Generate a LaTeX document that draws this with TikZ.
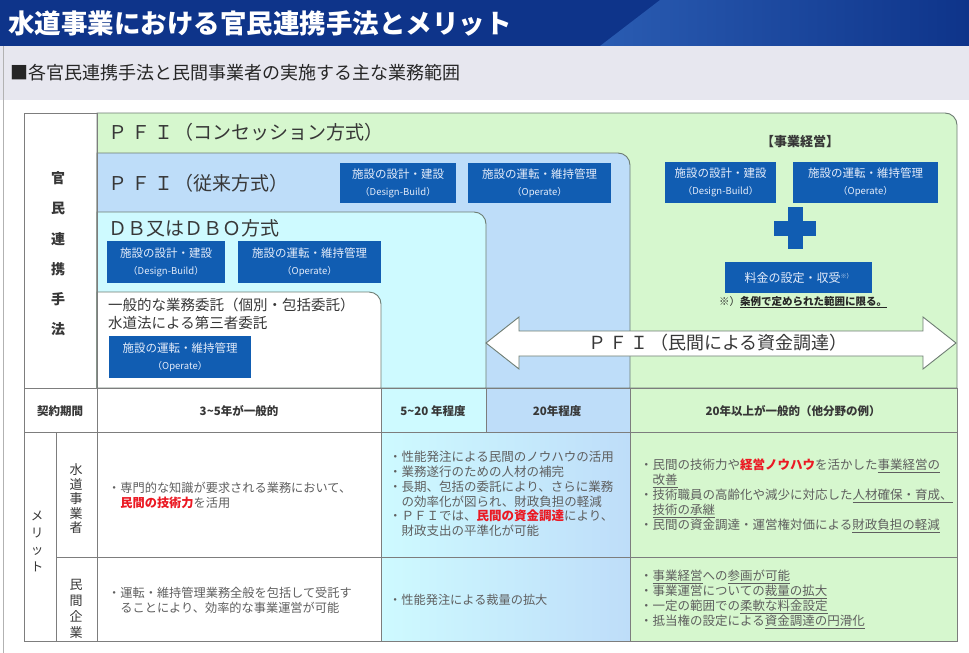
\documentclass[tikz,border=0pt]{standalone}
\usepackage{fontspec}
\setmainfont{Noto Sans CJK JP}
\definecolor{navy}{RGB}{14,52,138}
\definecolor{navyL}{RGB}{42,92,178}
\definecolor{band}{RGB}{231,231,239}
\definecolor{gfill}{RGB}{214,247,206}
\definecolor{bfill}{RGB}{190,221,249}
\definecolor{cfill}{RGB}{206,250,255}
\definecolor{boxblue}{RGB}{17,93,178}
\definecolor{boxtxt}{RGB}{228,236,250}
\definecolor{gridc}{RGB}{125,125,125}
\definecolor{edge}{RGB}{110,125,115}
\definecolor{txt}{RGB}{55,55,55}
\definecolor{mtxt}{RGB}{95,95,95}
\definecolor{accent}{RGB}{235,25,35}
\tikzset{
  dbox/.style={fill=boxblue, text=boxtxt, align=center, inner sep=0pt, font=\fontsize{11.5}{17}\selectfont},
  gridline/.style={draw=gridc, line width=1pt},
  region/.style={draw=edge, line width=0.9pt},
  mtext/.style={anchor=west, inner sep=0pt, align=left, text=mtxt, font=\fontsize{12.2}{15}\selectfont},
  ctext/.style={inner sep=0pt, text=txt, font=\bfseries\fontsize{11.5}{14}\selectfont},
  vtext/.style={inner sep=0pt, align=center, text=txt},
  htext/.style={anchor=west, inner sep=0pt, text=txt},
}
\newcommand{\lat}[1]{{\fontsize{9.5}{17}\selectfont #1}}
\newcommand{\hl}[1]{{\color{accent}\bfseries #1}}
\begin{document}
\begin{tikzpicture}[x=1pt,y=-1pt]
\useasboundingbox (0,0) rectangle (969,653);
\fill[white] (0,0) rectangle (969,653);
% title bar
\fill[navy] (0,0) rectangle (969,46);
\shade[left color=navyL, right color=navy] (600,46) -- (660,0) -- (969,0) -- (969,46) -- cycle;
\fill[band] (0,46) rectangle (969,100);
\draw[gray!60, line width=0.8pt] (3,46) -- (3,653);
\node[anchor=west, inner sep=0pt, text=white, font=\bfseries\fontsize{26.5}{30}\selectfont] (title) at (8,23) {水道事業における官民連携手法とメリット};
\node[anchor=west, inner sep=0pt, text=black!85, font=\fontsize{18}{20}\selectfont] (subtitle) at (10,73) {■各官民連携手法と民間事業者の実施する主な業務範囲};

% regions
\path[fill=gfill, region] (97,388) -- (97,113) -- (945,113) arc[start angle=-90,end angle=0,radius=12] -- (957,388) -- cycle;
\path[fill=bfill, region] (97,388) -- (97,153) -- (618,153) arc[start angle=-90,end angle=0,radius=12] -- (630,388) -- cycle;
\path[fill=cfill, region] (97,388) -- (97,212) -- (474,212) arc[start angle=-90,end angle=0,radius=12] -- (486,388) -- cycle;
\path[fill=white, region] (97,388) -- (97,292) -- (369,292) arc[start angle=-90,end angle=0,radius=12] -- (381,388) -- cycle;

% lower cells
\fill[cfill] (381,388) rectangle (486,432);
\fill[bfill] (486,388) rectangle (630,432);
\fill[gfill] (630,388) rectangle (957,641);
\shade[left color=cfill, right color=bfill] (381,432) rectangle (630,641);

% big arrow
\path[fill=white, region] (486,343) -- (519,317) -- (519,331) -- (923,331) -- (923,317) -- (956,343) -- (923,369) -- (923,356) -- (519,356) -- (519,369) -- cycle;
\node[inner sep=0pt, text=txt, font=\fontsize{18}{20}\selectfont] (pfifund) at (718,343) {Ｐ\hspace{3pt}Ｆ\hspace{3pt}Ｉ\hspace{2pt}（民間による資金調達）};

% grid
\draw[gridline] (97,113) -- (24,113) -- (24,641) -- (957,641) -- (957,388);
\draw[gridline] (24,388) -- (957,388);
\draw[gridline] (24,432) -- (957,432);
\draw[gridline] (56,557) -- (957,557);
\draw[gridline] (97,113) -- (97,641);
\draw[gridline] (56,432) -- (56,641);
\draw[gridline] (381,388) -- (381,641);
\draw[gridline] (486,388) -- (486,432);
\draw[gridline] (630,388) -- (630,641);

% left header
\node[vtext, font=\bfseries\fontsize{14}{30.2}\selectfont] (kanmin) at (58,254) {官\\民\\連\\携\\手\\法};

% region titles
\node[htext, font=\fontsize{19}{22}\selectfont] (conc) at (108,132) {Ｐ\hspace{4pt}Ｆ\hspace{4pt}Ｉ\hspace{1pt}（コンセッション方式）};
\node[htext, font=\fontsize{19}{22}\selectfont] (juurai) at (108,183) {Ｐ\hspace{4pt}Ｆ\hspace{4pt}Ｉ\hspace{1pt}（従来方式）};
\node[htext, font=\fontsize{19}{22}\selectfont] (dbo) at (108,228) {ＤＢ又はＤＢＯ方式};
\node[htext, align=left, font=\fontsize{14.5}{18}\selectfont] (ippan) at (108,314) {一般的な業務委託（個別・包括委託）\\水道法による第三者委託};

% blue boxes
\node[dbox, minimum width=116, minimum height=40] (b1) at (398,183) {施設の設計・建設\\\lat{（Design-Build）}};
\node[dbox, minimum width=143, minimum height=40] (b2) at (539.5,183) {施設の運転・維持管理\\\lat{（Operate）}};
\node[dbox, minimum width=118, minimum height=42] (d1) at (166,262) {施設の設計・建設\\\lat{（Design-Build）}};
\node[dbox, minimum width=143, minimum height=42] (d2) at (309.5,262) {施設の運転・維持管理\\\lat{（Operate）}};
\node[dbox, minimum width=142, minimum height=42] (w1) at (180,357) {施設の運転・維持管理\\\lat{（Operate）}};
\node[dbox, minimum width=111, minimum height=41] (g1) at (720.5,182) {施設の設計・建設\\\lat{（Design-Build）}};
\node[dbox, minimum width=145, minimum height=41] (g2) at (865.5,182) {施設の運転・維持管理\\\lat{（Operate）}};
\node[dbox, minimum width=147, minimum height=31, font=\fontsize{12}{14}\selectfont] (fee) at (798.5,277.5) {料金の設定・収受\raisebox{4pt}{\fontsize{6}{6}\selectfont ※）}};
\node[inner sep=0pt, text=txt, font=\bfseries\fontsize{13}{15}\selectfont] (jigyo) at (800,142) {【事業経営】};
\node[inner sep=0pt, text=black!85, font=\fontsize{10.5}{12}\selectfont] (note) at (803,302) {※）\underline{\textbf{条例で定められた範囲に限る。}}};
% plus sign
\fill[boxblue] (787.5,207) rectangle (802.5,249);
\fill[boxblue] (774,220.5) rectangle (816,235.5);

% contract row
\node[ctext] (keiyaku) at (60,411) {契約期間};
\node[ctext] (c1) at (239,411) {3\textasciitilde 5年が一般的};
\node[ctext] (c2) at (433,411) {5\textasciitilde 20 年程度};
\node[ctext] (c3) at (557,411) {20年程度};
\node[ctext] (c4) at (793,411) {20年以上が一般的（他分野の例）};

% merit labels
\node[vtext, font=\fontsize{12.5}{17}\selectfont] (merit) at (37,541) {メ\\リ\\ッ\\ト};
\node[vtext, font=\fontsize{13}{14.5}\selectfont] (suido) at (76,499) {水\\道\\事\\業\\者};
\node[vtext, font=\fontsize{13}{16}\selectfont] (minkan) at (76,609) {民\\間\\企\\業};

% merit texts
\node[mtext] (m11) at (108,495.5) {・専門的な知識が要求される業務において、\\　\hl{民間の技術力}を活用};
\node[mtext, font=\fontsize{12.5}{14.8}\selectfont] (m12) at (389,494) {・性能発注による民間のノウハウの活用\\・業務遂行のための人材の補完\\・長期、包括の委託により、さらに業務\\　の効率化が図られ、財政負担の軽減\\・ＰＦＩでは、\hl{民間の資金調達}により、\\　財政支出の平準化が可能};
\node[mtext, font=\fontsize{12.5}{15}\selectfont] (m13) at (640,496) {・民間の技術力や\hl{経営ノウハウ}を活かした\underline{事業経営の}\\　\underline{改善}\\・技術職員の高齢化や減少に対応した\underline{人材確保・育成、}\\　\underline{技術の承継}\\・民間の資金調達・運営権対価による\underline{財政負担の軽減}};
\node[mtext] (m21) at (108,600) {・運転・維持管理業務全般を包括して受託す\\　ることにより、効率的な事業運営が可能};
\node[mtext] (m22) at (389,600) {・性能発注による裁量の拡大};
\node[mtext, font=\fontsize{12.5}{15}\selectfont] (m23) at (640,599.5) {・\underline{事業経営}への\underline{参画が可能}\\・事業運営についての\underline{裁量の拡大}\\・一定の範囲での\underline{柔軟な料金設定}\\・抵当権の設定による\underline{資金調達の円滑化}};
\end{tikzpicture}
\end{document}
